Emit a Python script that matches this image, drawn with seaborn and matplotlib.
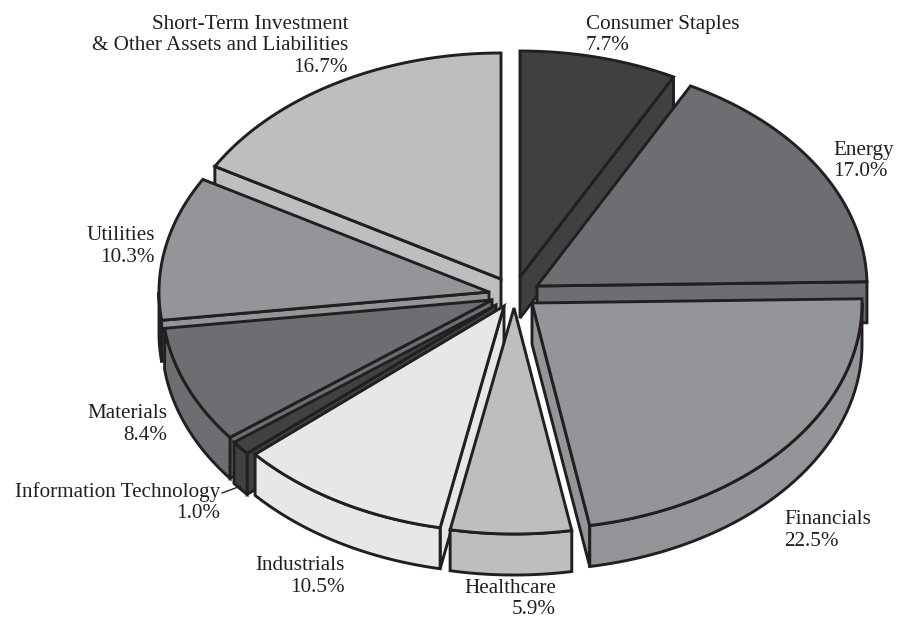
import numpy as np
import matplotlib
matplotlib.use("Agg")
import matplotlib.pyplot as plt
import seaborn as sns

sectors = ["Consumer Staples", "Energy", "Financials", "Healthcare", "Industrials",
           "Information Technology", "Materials", "Utilities",
           "Short-Term Investment\n& Other Assets and Liabilities"]
weights = [7.7, 17.0, 22.5, 5.9, 10.5, 1.0, 8.4, 10.3, 16.7]
shades = ["#404041", "#6d6e71", "#939598", "#bcbec0", "#e6e7e8",
          "#414042", "#6d6e71", "#939598", "#bcbec0"]

# Apex of each exploded wedge
apex_x = [520, 537, 532, 514, 504, 496, 492, 489, 501]
apex_y = [277, 286, 303, 308, 306, 305, 300, 292, 279]
# Back-to-front painting order
paint_order = [8, 0, 7, 1, 6, 5, 2, 4, 3]

# Label anchor (x, baseline of the first line), alignment
label_x = [586, 833, 784, 556, 345, 220, 167, 155, 348]
label_y = [29, 155, 524, 593, 570, 497, 418, 240, 29]
label_ha = ["left", "left", "left", "right", "right", "right", "right", "right", "right"]
line_step = 21.5

RX, RY, DEPTH = 330, 226, 41
EDGE = "#231f20"
LW = 2.1

sns.set_theme(style="white")
plt.rcParams["font.family"] = ["Liberation Serif", "DejaVu Serif"]

fig = plt.figure(figsize=(8.98, 6.17), dpi=100)
ax = fig.add_axes([0, 0, 1, 1])
ax.set_xlim(0, 898)
ax.set_ylim(617, 0)
ax.axis("off")

edges = 3.6 * np.concatenate([[0], np.cumsum(weights)])


def rim(t):
    """Point on the top ellipse, t in degrees clockwise from twelve o'clock."""
    r = np.radians(t)
    return RX * np.sin(r), -RY * np.cos(r)


def face(xs, ys, color, z):
    ax.fill(xs, ys, facecolor=color, edgecolor=EDGE, linewidth=LW,
            joinstyle="miter", zorder=z)


for rank, i in enumerate(paint_order):
    t1, t2 = edges[i], edges[i + 1]
    cx, cy = apex_x[i], apex_y[i]
    z = 2 + rank
    color = shades[i]

    # Cut faces that turn toward the viewer
    for t, visible in ((t2, np.sin(np.radians(t2)) > 1e-6),
                       (t1, np.sin(np.radians(t1)) < -1e-6)):
        if visible:
            dx, dy = rim(t)
            face([cx, cx + dx, cx + dx, cx],
                 [cy, cy + dy, cy + dy + DEPTH, cy + DEPTH], color, z)

    # Outer wall over the front half of the ellipse
    lo, hi = max(t1, 90), min(t2, 270)
    if hi > lo:
        ts = np.linspace(lo, hi, 60)
        dx, dy = rim(ts)
        face(np.r_[cx + dx, (cx + dx)[::-1]],
             np.r_[cy + dy, (cy + dy + DEPTH)[::-1]], color, z)

    # Top surface
    ts = np.linspace(t1, t2, 120)
    dx, dy = rim(ts)
    face(np.r_[cx, cx + dx], np.r_[cy, cy + dy], color, z)

for i, name in enumerate(sectors):
    for k, line in enumerate(name.split("\n") + [f"{weights[i]:.1f}%"]):
        ax.text(label_x[i], label_y[i] + k * line_step, line, ha=label_ha[i],
                va="baseline", fontsize=15.2, color="#231f20", zorder=20)

# Leader for the narrow wedge
ax.plot([222, 241], [493, 486], color=EDGE, lw=1.0, zorder=20)

fig.savefig("out.png", dpi=100, facecolor="white")
